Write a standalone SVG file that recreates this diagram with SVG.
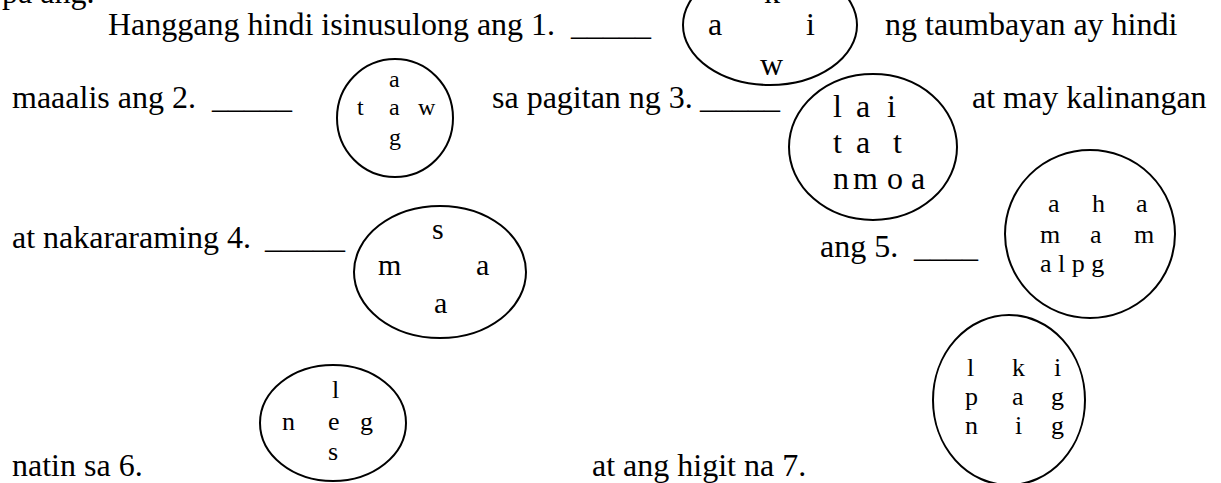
<svg xmlns="http://www.w3.org/2000/svg" width="1221" height="483" viewBox="0 0 1221 483">
<style>
text{font-family:"Liberation Serif","Times New Roman",serif;fill:#000}
.t{font-size:32px}
.l{font-size:30px}
.m{font-size:26px}
.s{font-size:24px}
ellipse{fill:none;stroke:#000;stroke-width:2}
</style>
<rect width="1221" height="483" fill="#fff"/>
<g id="text">
<text class="t" x="2" y="3">pa ang.</text>
<text class="t" x="108" y="35">Hanggang hindi isinusulong ang 1.</text>
<text class="t" x="571" y="35">_____</text>
<text class="t" x="885" y="35">ng taumbayan ay hindi</text>
<text class="t" x="12" y="108">maaalis ang 2.</text>
<text class="t" x="212" y="108">_____</text>
<text class="t" x="492" y="108">sa pagitan ng 3.</text>
<text class="t" x="700" y="108">_____</text>
<text class="t" x="972" y="108">at may kalinangan</text>
<text class="t" x="12" y="248">at nakararaming 4.</text>
<text class="t" x="265" y="248">_____</text>
<text class="t" x="820" y="257">ang 5.</text>
<text class="t" x="914" y="257">____</text>
<text class="t" x="12" y="476">natin sa 6.</text>
<text class="t" x="592" y="476">at ang higit na 7.</text>
</g>
<g id="node1">
<ellipse cx="770" cy="25" rx="87" ry="60"/>
<text class="t" x="764" y="3">k</text>
<text class="t" x="708" y="35">a</text>
<text class="t" x="806" y="35">i</text>
<text class="t" x="760" y="75">w</text>
</g>
<g id="node2">
<ellipse cx="395" cy="118" rx="58" ry="59"/>
<text class="s" x="389" y="87">a</text>
<text class="s" x="357" y="115">t</text>
<text class="s" x="389" y="115">a</text>
<text class="s" x="418" y="115">w</text>
<text class="s" x="389" y="145">g</text>
</g>
<g id="node3">
<ellipse cx="873" cy="147" rx="84" ry="73"/>
<text class="t" x="833" y="117">l</text>
<text class="t" x="856" y="117">a</text>
<text class="t" x="887" y="117">i</text>
<text class="t" x="833" y="153">t</text>
<text class="t" x="856" y="153">a</text>
<text class="t" x="893" y="153">t</text>
<text class="t" x="833" y="189">n</text>
<text class="t" x="853" y="189">m</text>
<text class="t" x="887" y="189">o</text>
<text class="t" x="911" y="189">a</text>
</g>
<g id="node4">
<ellipse cx="440" cy="272" rx="86" ry="66"/>
<text class="l" x="432" y="239">s</text>
<text class="l" x="378" y="275">m</text>
<text class="l" x="476" y="275">a</text>
<text class="l" x="434" y="313">a</text>
</g>
<g id="node5">
<ellipse cx="1090" cy="234" rx="85" ry="84"/>
<text class="m" x="1048" y="212">a</text>
<text class="m" x="1092" y="212">h</text>
<text class="m" x="1136" y="212">a</text>
<text class="m" x="1040" y="243">m</text>
<text class="m" x="1090" y="243">a</text>
<text class="m" x="1134" y="243">m</text>
<text class="m" x="1040" y="272" xml:space="preserve">a l p g</text>
</g>
<g id="node6">
<ellipse cx="333" cy="423" rx="73" ry="58"/>
<text class="m" x="332" y="398">l</text>
<text class="m" x="282" y="430">n</text>
<text class="m" x="328" y="430">e</text>
<text class="m" x="360" y="430">g</text>
<text class="m" x="328" y="460">s</text>
</g>
<g id="node7">
<ellipse cx="1009" cy="400" rx="76" ry="85"/>
<text class="m" x="967" y="376">l</text>
<text class="m" x="1012" y="376">k</text>
<text class="m" x="1054" y="376">i</text>
<text class="m" x="965" y="405">p</text>
<text class="m" x="1012" y="405">a</text>
<text class="m" x="1051" y="405">g</text>
<text class="m" x="965" y="434">n</text>
<text class="m" x="1015" y="434">i</text>
<text class="m" x="1051" y="434">g</text>
</g>
<g id="connectors"/>
</svg>
